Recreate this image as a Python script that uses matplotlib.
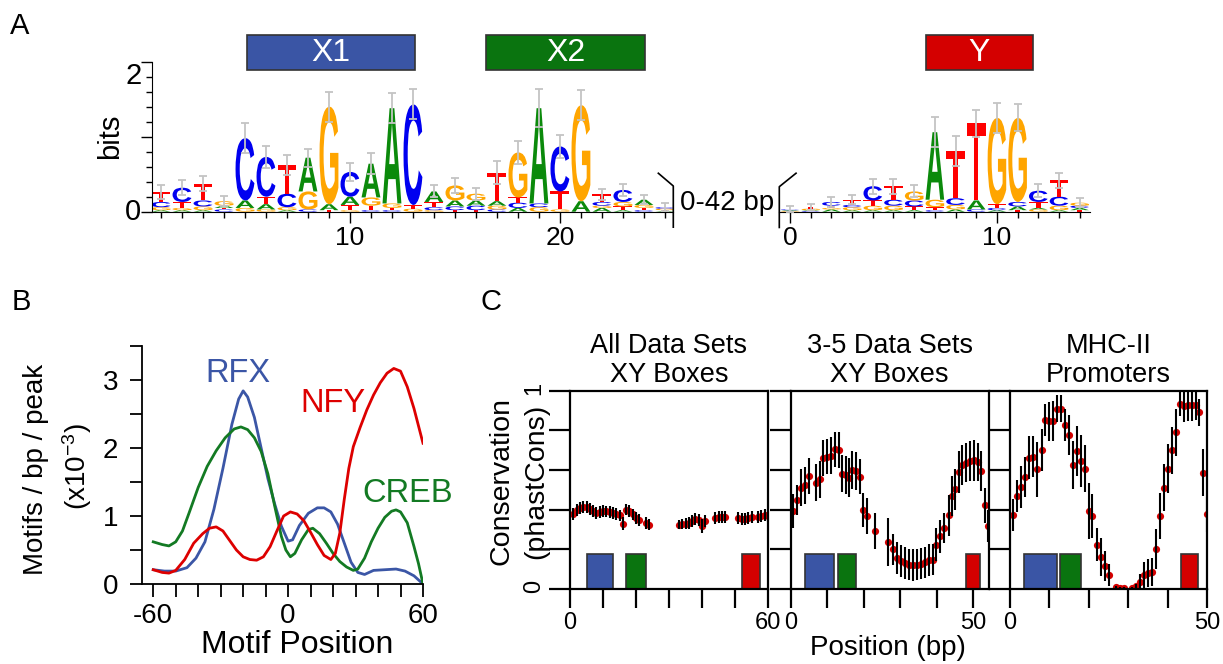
import matplotlib
matplotlib.use('Agg')
import matplotlib.pyplot as plt
import matplotlib.transforms as mtransforms
from matplotlib.font_manager import FontProperties
from matplotlib.lines import Line2D
from matplotlib.patches import PathPatch, Rectangle
from matplotlib.textpath import TextPath
from matplotlib.ticker import FixedLocator

plt.rcParams['font.family'] = ['Liberation Sans', 'DejaVu Sans']
plt.rcParams['mathtext.fontset'] = 'custom'
plt.rcParams['mathtext.rm'] = 'Liberation Sans'
plt.rcParams['mathtext.it'] = 'Liberation Sans:italic'

# ---------------- panel A: logo stacks, bottom -> top (letter, bits)
logo_x_stacks = [
    [('A', .02), ('G', .04), ('C', .07), ('T', .13)],
    [('A', .02), ('G', .03), ('T', .08), ('C', .19)],
    [('A', .02), ('G', .05), ('C', .08), ('T', .22)],
    [('C', .03), ('T', .02), ('A', .03), ('G', .06)],
    [('G', .05), ('A', .10), ('C', .83)],
    [('G', .03), ('A', .07), ('T', .10), ('C', .53)],
    [('A', .02), ('G', .04), ('C', .18), ('T', .38)],
    [('C', .03), ('G', .24), ('A', .45)],
    [('T', .02), ('A', .08), ('G', 1.30)],
    [('G', .02), ('T', .07), ('A', .11), ('C', .33)],
    [('C', .02), ('T', .06), ('G', .11), ('A', .45)],
    [('C', .02), ('T', .03), ('G', .06), ('A', 1.27)],
    [('G', .04), ('T', .05), ('C', 1.34)],
    [('G', .02), ('C', .04), ('T', .07), ('A', .14)],
    [('T', .02), ('C', .05), ('A', .08), ('G', .20)],
    [('T', .02), ('C', .06), ('A', .07), ('G', .09)],
    [('C', .03), ('G', .05), ('A', .06), ('T', .38)],
    [('A', .05), ('C', .07), ('T', .07), ('G', .60)],
    [('G', .06), ('C', .05), ('A', 1.27)],
    [('G', .03), ('T', .24), ('C', .60)],
    [('A', .14), ('G', 1.28)],
    [('A', .05), ('G', .03), ('C', .05), ('T', .10)],
    [('A', .02), ('T', .05), ('G', .06), ('C', .16)],
    [('C', .02), ('T', .03), ('G', .04), ('A', .07)],
    [('A', .01), ('T', .01), ('G', .02), ('C', .02)],
]
logo_x_err = [.09, .10, .10, .07, .20, .15, .13, .12, .20, .12, .14, .20, .20,
              .08, .10, .08, .15, .15, .25, .15, .20, .07, .08, .06, .05]

logo_y_stacks = [
    [('G', .01), ('A', .01), ('C', .01), ('T', .01)],
    [('C', .01), ('A', .01), ('G', .02), ('T', .02)],
    [('A', .03), ('G', .02), ('T', .03), ('C', .05)],
    [('A', .02), ('G', .04), ('C', .03), ('T', .07)],
    [('A', .02), ('G', .06), ('T', .07), ('C', .19)],
    [('A', .02), ('G', .06), ('C', .08), ('T', .18)],
    [('A', .02), ('T', .05), ('C', .08), ('G', .12)],
    [('C', .02), ('T', .04), ('G', .10), ('A', .90)],
    [('A', .03), ('G', .06), ('C', .09), ('T', .63)],
    [('C', .03), ('A', .12), ('T', 1.03)],
    [('A', .02), ('C', .03), ('T', .05), ('G', 1.15)],
    [('T', .02), ('A', .05), ('C', .06), ('G', 1.12)],
    [('G', .03), ('A', .02), ('T', .08), ('C', .15)],
    [('A', .02), ('G', .06), ('C', .12), ('T', .22)],
    [('T', .02), ('A', .03), ('C', .03), ('G', .04)],
]
logo_y_err = [.04, .04, .07, .06, .10, .10, .08, .20, .20, .18, .20, .18,
              .09, .10, .06]

header_names = ['X1', 'X2', 'Y']
header_spans = [(5.1, 13.1), (16.5, 24.05), (6.57, 11.74)]

# ---------------- panel B: motif density curves
rfx_x = [-60, -55, -50, -45, -41, -37, -33, -29, -25, -22, -20, -18, -15, -12,
         -9, -6, -3, 0, 2, 5, 9, 13, 16, 19, 22, 25, 28, 31, 34, 38, 43, 48,
         52, 56, 60]
rfx_y = [.21, .19, .19, .24, .38, .62, 1.1, 1.7, 2.35, 2.72, 2.84, 2.75, 2.45,
         2.0, 1.55, 1.18, .85, .63, .65, .86, 1.04, 1.12, 1.12, 1.06, .88, .6,
         .32, .17, .14, .2, .21, .22, .19, .12, 0.0]
creb_x = [-60, -56, -53, -50, -47, -44, -40, -36, -32, -28, -24, -21, -18, -15,
          -12, -9, -6, -3, -1, 1, 3, 6, 9, 11, 14, 17, 20, 23, 26, 29, 31, 34,
          37, 40, 43, 46, 48, 50, 53, 56, 58, 60]
creb_y = [.62, .58, .56, .62, .78, 1.05, 1.42, 1.73, 1.96, 2.15, 2.28, 2.31,
          2.27, 2.15, 1.95, 1.62, 1.15, .7, .5, .4, .45, .65, .8, .82, .74, .6,
          .45, .33, .25, .2, .22, .38, .62, .82, .98, 1.07, 1.09, 1.06, .9, .55,
          .3, 0.0]
nfy_x = [-60, -56, -53, -50, -46, -42, -38, -35, -32, -29, -26, -23, -20, -17,
         -14, -11, -8, -5, -2, 1, 4, 7, 10, 13, 16, 19, 21, 23, 25, 27, 29, 32,
         35, 38, 41, 44, 47, 50, 53, 56, 60]
nfy_y = [.21, .17, .16, .2, .36, .6, .74, .82, .84, .78, .64, .5, .4, .36, .35,
         .4, .55, .78, 1.0, 1.06, 1.03, .93, .76, .58, .42, .36, .45, .75, 1.25,
         1.7, 2.02, 2.3, 2.56, 2.78, 2.96, 3.1, 3.17, 3.13, 2.9, 2.58, 2.07]

# ---------------- panel C: phastCons conservation
all_x = [1, 2, 3, 4, 5, 6, 7, 8, 9, 10, 11, 12, 13, 14, 15, 16, 17, 18, 19, 20,
         21, 23, 24, 33, 34, 35, 36, 37, 38, 39, 40, 41, 44, 45, 46, 47, 51, 52,
         53, 54, 55, 57, 58, 59, 60]
all_y = [.378, .397, .409, .412, .412, .404, .392, .383, .389, .392, .390, .387,
         .383, .378, .370, .329, .400, .392, .375, .358, .346, .333, .324, .324,
         .328, .329, .333, .341, .350, .346, .316, .341, .358, .361, .361, .363,
         .358, .353, .353, .358, .363, .363, .367, .372, .367]
all_err = [.03, .03, .03, .03, .03, .03, .03, .03, .03, .03, .03, .03, .03, .03,
           .03, .035, .03, .03, .03, .03, .03, .03, .03, .025, .025, .03, .03,
           .03, .03, .03, .035, .03, .03, .03, .03, .03, .03, .03, .03, .03, .03,
           .03, .03, .03, .03]

mid_x = [0.6, 1.7, 2.8, 3.9, 5.0, 6.8, 7.9, 8.9, 10.0, 11.1, 12.1, 13.2, 14.0,
         15.1, 16.0, 16.9, 18.0, 18.9, 19.8, 20.9, 23.0, 26.7, 28.0, 29.1, 30.2,
         31.3, 32.4, 33.5, 34.6, 35.7, 36.8, 37.9, 39.0, 39.9, 41.0, 42.1, 43.2,
         44.1, 45.0, 46.1, 47.0, 47.9, 49.0, 50.1, 51.2, 52.2, 53.1, 54.0]
mid_y = [.392, .448, .510, .522, .569, .535, .552, .662, .667, .671, .704, .699,
         .581, .573, .561, .600, .595, .566, .397, .367, .291, .236, .198, .155,
         .139, .130, .122, .118, .122, .127, .133, .144, .147, .223, .265, .307,
         .370, .468, .502, .590, .625, .637, .645, .649, .640, .593, .421, .316]
mid_err = [.085, .076, .093, .095, .093, .093, .093, .091, .09, .093, .088, .091,
           .093, .097, .097, .097, .097, .089, .084, .093, .089, .123, .076, .08,
           .08, .08, .08, .08, .08, .08, .08, .08, .08, .084, .084, .076, .105,
           .1, .105, .105, .1, .097, .1, .103, .097, .1, .089, .08]

mhc_x = [0.8, 1.9, 2.9, 3.9, 4.9, 5.9, 6.9, 8.0, 8.8, 9.8, 10.8, 11.8, 12.8,
         13.9, 14.9, 15.9, 16.9, 17.9, 18.9, 19.9, 20.9, 22.0, 23.0, 24.0, 25.0,
         26.9, 27.9, 28.9, 30.9, 31.9, 32.9, 33.9, 35.0, 36.0, 37.0, 38.0, 39.0,
         40.0, 41.1, 42.1, 43.1, 44.1, 45.1, 46.1, 47.1, 48.0, 49.0, 50.0]
mhc_y = [.372, .468, .515, .564, .662, .667, .603, .701, .851, .845, .848, .910,
         .910, .826, .775, .625, .696, .645, .606, .392, .367, .223, .160, .113,
         .068, .008, .003, .003, .003, .012, .034, .068, .079, .083, .201, .367,
         .510, .606, .699, .789, .932, .924, .929, .929, .927, .890, .586, .375]
mhc_err = [.08, .08, .107, .1, .11, .105, .14, .105, .08, .1, .1, .07, .07, .08,
           .1, .12, .125, .13, .12, .14, .11, .085, .095, .075, .055, .005, .005,
           .005, .005, .01, .04, .065, .07, .07, .1, .115, .12, .125, .12, .12,
           .06, .08, .08, .08, .075, .07, .12, .09]

cons_titles = ['All Data Sets\nXY Boxes', '3-5 Data Sets\nXY Boxes',
               'MHC-II\nPromoters']
cons_xmax = [60, 54.2, 50]
cons_boxes = [
    [(5.06, 13.1), (17.1, 23.0), (52.0, 57.6)],
    [(3.8, 11.9), (12.9, 17.9), (48.0, 51.8)],
    [(3.6, 12.0), (12.7, 17.9), (43.4, 47.6)],
]

BLUE = '#3a55a5'
GREEN = '#0a740f'
RED = '#d40000'
LETTER_COLORS = {'A': '#0b8a0b', 'C': '#0000f0', 'G': '#ffa500', 'T': '#ff0000'}
LETTER_FP = FontProperties(family='Liberation Sans', weight='bold')

W, H = 1223, 664


def px_box(left, top, right, bottom):
    return [left / W, 1 - bottom / H, (right - left) / W, (bottom - top) / H]


def fpt(x, y):
    return x / W, 1 - y / H


def px_line(fig, xs, ys, lw=1.2):
    fig.add_artist(Line2D([x / W for x in xs], [1 - y / H for y in ys],
                          color='black', lw=lw, solid_capstyle='butt'))


def draw_letter(ax, ch, x, y0, h, width=0.9):
    tp = TextPath((0, 0), ch, size=1, prop=LETTER_FP)
    bb = tp.get_extents()
    tr = (mtransforms.Affine2D().translate(-bb.x0, -bb.y0)
          .scale(width / bb.width, h / bb.height).translate(x - width / 2, y0))
    ax.add_patch(PathPatch(tr.transform_path(tp), fc=LETTER_COLORS[ch],
                           ec='none', zorder=2))


def draw_logo(ax, positions, stacks, errs):
    tops = []
    for x, stack in zip(positions, stacks):
        y = 0.0
        for ch, h in stack:
            draw_letter(ax, ch, x, y, h)
            y += h
        tops.append(y)
    ax.errorbar(positions, tops, yerr=errs, fmt='none', ecolor='#c4c4c4',
                elinewidth=1.3, capsize=3, capthick=1.3, zorder=3)


def header_box(ax, span, name, color):
    tr = mtransforms.blended_transform_factory(ax.transData, ax.transAxes)
    ax.add_patch(Rectangle((span[0], 0.945), span[1] - span[0], 0.233,
                           transform=tr, fc=color, ec='#333333', lw=1.2,
                           clip_on=False))
    ax.text((span[0] + span[1]) / 2, 1.06, name, transform=tr, ha='center',
            va='center', color='white', fontsize=23)


fig = plt.figure(figsize=(12.23, 6.64), dpi=100)

# ---- A: left logo
axl = fig.add_axes(px_box(151.7, 61.7, 673.3, 211.7))
pos_l = list(range(1, len(logo_x_stacks) + 1))
draw_logo(axl, pos_l, logo_x_stacks, logo_x_err)
axl.set_xlim(0.557, 25.4)
axl.set_ylim(0, 2)
for s in ['top', 'right']:
    axl.spines[s].set_visible(False)
axl.xaxis.set_major_locator(FixedLocator([10, 20]))
axl.xaxis.set_minor_locator(FixedLocator(pos_l))
axl.yaxis.set_major_locator(FixedLocator([0, 1, 2]))
axl.yaxis.set_minor_locator(FixedLocator([i * 0.2 for i in range(11)]))
axl.set_yticklabels([])
axl.tick_params(which='major', length=8, width=1, labelsize=19, pad=2)
axl.tick_params(which='minor', length=4, width=1)
ytr = mtransforms.blended_transform_factory(axl.transAxes, axl.transData)
axl.text(-0.02, 2, '2', transform=ytr, ha='right', va='top', fontsize=21)
axl.text(-0.02, 0, '0', transform=ytr, ha='right', va='center', fontsize=21)
axl.text(-0.08, 1, 'bits', transform=ytr, rotation=90, ha='center',
         va='center', fontsize=21)
header_box(axl, header_spans[0], header_names[0], BLUE)
header_box(axl, header_spans[1], header_names[1], GREEN)

# ---- A: right logo
axr = fig.add_axes(px_box(779.3, 61.7, 1090, 211.7))
pos_r = list(range(len(logo_y_stacks)))
draw_logo(axr, pos_r, logo_y_stacks, logo_y_err)
axr.set_xlim(-0.52, 14.5)
axr.set_ylim(0, 2)
for s in ['top', 'right', 'left']:
    axr.spines[s].set_visible(False)
axr.set_yticks([])
axr.xaxis.set_major_locator(FixedLocator([0, 10]))
axr.xaxis.set_minor_locator(FixedLocator(pos_r))
axr.tick_params(which='major', length=8, width=1, labelsize=19, pad=2)
axr.tick_params(which='minor', length=4, width=1)
header_box(axr, header_spans[2], header_names[2], RED)

# axis break brackets
px_line(fig, [657.7, 673.3, 673.3], [172.7, 186, 228])
px_line(fig, [796.7, 779.3, 779.3], [172.7, 186.7, 228.3])
fig.text(*fpt(727, 203), '0-42 bp', ha='center', va='center', fontsize=20)

# ---- B
axb = fig.add_axes(px_box(142, 346, 423, 584))
axb.plot(rfx_x, rfx_y, color='#3b56a6', lw=2)
axb.plot(creb_x, creb_y, color='#137a23', lw=2)
axb.plot(nfy_x, nfy_y, color='#dd0000', lw=2)
axb.set_xlim(-65, 60)
axb.set_ylim(0, 3.5)
for s in ['top', 'right']:
    axb.spines[s].set_visible(False)
for s in ['left', 'bottom']:
    axb.spines[s].set_linewidth(1.3)
axb.xaxis.set_major_locator(FixedLocator(list(range(-60, 61, 10))))
axb.set_xticklabels(['-60', '', '', '', '', '', '0', '', '', '', '', '', '60'])
axb.yaxis.set_major_locator(FixedLocator([i * 0.5 for i in range(8)]))
axb.set_yticklabels(['0', '', '1', '', '2', '', '3', ''])
axb.tick_params(length=9, width=1.3, labelsize=20)
axb.tick_params(axis='y', pad=8)
axb.tick_params(axis='x', pad=5)
axb.text(-22.4, 2.97, 'RFX', color='#3b56a6', fontsize=23.5, ha='center',
         va='baseline')
axb.text(19.8, 2.53, 'NFY', color='#dd0000', fontsize=23.5, ha='center',
         va='baseline')
axb.text(53.1, 1.21, 'CREB', color='#137a23', fontsize=23.5, ha='center',
         va='baseline')
fig.text(*fpt(36, 469), 'Motifs / bp / peak', rotation=90, ha='center',
         va='center', fontsize=20)
fig.text(*fpt(77, 467), r'(x10$^{\mathregular{-3}}$)', rotation=90,
         ha='center', va='center', fontsize=20)
fig.text(*fpt(297, 645), 'Motif Position', ha='center', va='center',
         fontsize=23)

# ---- C
cons_sets = [(all_x, all_y, all_err), (mid_x, mid_y, mid_err),
             (mhc_x, mhc_y, mhc_err)]
cons_lefts = [(570, 768), (790.7, 988.7), (1010, 1207.3)]
box_colors = [BLUE, GREEN, RED]
for i, ((xs, ys, es), (l, r)) in enumerate(zip(cons_sets, cons_lefts)):
    ax = fig.add_axes(px_box(l, 390.7, r, 588.7))
    for (b0, b1), c in zip(cons_boxes[i], box_colors):
        ax.add_patch(Rectangle((b0, 0), b1 - b0, 0.175, fc=c, ec='#333333',
                               lw=1.2, zorder=1))
    ax.plot(xs, ys, 'o', color=RED, ms=5.2, mec='none', zorder=2)
    ax.errorbar(xs, ys, yerr=es, fmt='none', ecolor='black', elinewidth=1.5,
                capsize=0, zorder=3)
    ax.set_xlim(0, cons_xmax[i])
    ax.set_ylim(0, 1)
    for s in ax.spines.values():
        s.set_linewidth(1.6)
    xt = list(range(0, int(cons_xmax[i]) + 1, 10))
    ax.xaxis.set_major_locator(FixedLocator(xt))
    ax.set_xticklabels([str(t) if t in (0, xt[-1]) else '' for t in xt])
    ax.yaxis.set_major_locator(FixedLocator([j * 0.2 for j in range(6)]))
    ax.tick_params(axis='x', length=14, width=1.6, labelsize=17, pad=3)
    ax.tick_params(axis='y', length=15, width=1.6, labelsize=17, pad=3,
                   labelrotation=90)
    if i == 0:
        ax.set_yticklabels(['0', '', '', '', '', '1'])
    else:
        ax.set_yticklabels([])
    ax.set_title(cons_titles[i], fontsize=19.5, pad=6, linespacing=1.15)

fig.text(*fpt(501, 481), 'Conservation', rotation=90, ha='center',
         va='center', fontsize=20.5)
fig.text(*fpt(536.5, 481), '(phastCons)', rotation=90, ha='center',
         va='center', fontsize=20.5)
fig.text(*fpt(888, 648), 'Position (bp)', ha='center', va='center',
         fontsize=20)

# panel letters
fig.text(*fpt(10, 34), 'A', fontsize=21, va='baseline')
fig.text(*fpt(12, 310), 'B', fontsize=21, va='baseline')
fig.text(*fpt(480, 310), 'C', fontsize=21, va='baseline')

fig.savefig('out.png', dpi=100)
